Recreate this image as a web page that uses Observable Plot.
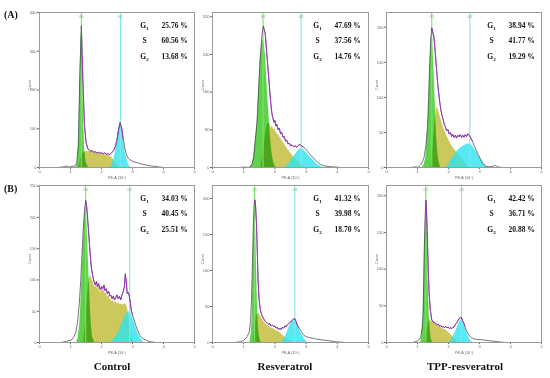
<!DOCTYPE html>
<html><head><meta charset="utf-8">
<script src="https://cdn.jsdelivr.net/npm/d3@7"></script>
<script src="https://cdn.jsdelivr.net/npm/@observablehq/plot@0.6"></script>
<style>
html,body{margin:0;padding:0;background:#fff;}
#wrap{position:relative;width:550px;height:378px;overflow:hidden;background:#fff;}
.panel{position:absolute;}
.lbl{position:absolute;font-family:"Liberation Serif",serif;font-weight:bold;color:#111;white-space:nowrap;}
</style></head>
<body><div id="wrap"></div>
<script>
// ---------- data ----------
const columnTitles = ["Control", "Resveratrol", "TPP-resveratrol"];
const rowLabels = ["(A)", "(B)"];
const phaseLabels = ["G\u2081", "S", "G\u2082"];
const xTicks = [0, 1, 2, 3, 4, 5];
const xLabel = "PE-A (10\u2075)";
const yLabel = "Count";

// Row A, Control
const A1_pct = ["25.76 %", "60.56 %", "13.68 %"];
const A1_gates = [1.35, 2.61];
const A1_yMax = 400, A1_yTicks = [0, 100, 200, 300, 400];
const A1_total = [[0.6,0],[0.8,2],[0.88,4],[0.95,1],[1.05,3],[1.15,4],[1.2,12],[1.25,55],[1.3,240],[1.35,365],[1.4,225],[1.45,110],[1.5,66],[1.55,50],[1.6,45],[1.65,42],[1.7,44],[1.75,39],[1.8,41],[1.85,37],[1.9,40],[1.95,36],[2.0,39],[2.05,35],[2.1,38],[2.15,34],[2.2,36],[2.25,33],[2.3,36],[2.35,40],[2.4,45],[2.45,55],[2.5,72],[2.55,98],[2.6,116],[2.65,102],[2.7,74],[2.75,50],[2.8,34],[2.85,26],[2.9,21],[3.0,16],[3.2,11],[3.4,7],[3.6,4],[3.8,2],[4.0,0]];
const A1_g1 = [[1.18,0],[1.23,15],[1.27,80],[1.3,200],[1.33,320],[1.35,350],[1.37,320],[1.4,200],[1.43,100],[1.46,45],[1.5,15],[1.55,3],[1.6,0]];
const A1_s = [[1.28,0],[1.33,22],[1.38,35],[1.45,40],[1.55,41],[1.6,42],[1.65,40],[1.7,42],[1.75,37],[1.8,39],[1.85,35],[1.9,38],[1.95,34],[2.0,37],[2.05,33],[2.1,35],[2.15,31],[2.2,33],[2.25,29],[2.3,28],[2.35,24],[2.4,18],[2.45,11],[2.5,5],[2.55,1],[2.6,0]];
const A1_g2 = [[2.28,0],[2.35,10],[2.4,22],[2.45,40],[2.5,66],[2.55,95],[2.6,113],[2.65,100],[2.7,72],[2.75,46],[2.8,26],[2.85,12],[2.9,4],[2.95,0]];

// Row A, Resveratrol
const A2_pct = ["47.69 %", "37.56 %", "14.76 %"];
const A2_gates = [1.62, 2.84];
const A2_yMax = 329, A2_yTicks = [0, 80, 160, 240, 320];
const A2_total = [[0.9,0],[1.05,1],[1.15,0],[1.21,2],[1.27,8],[1.32,21],[1.37,57],[1.43,99],[1.48,170],[1.53,234],[1.59,284],[1.63,300],[1.69,284],[1.74,241],[1.8,192],[1.85,150],[1.88,128],[1.91,112],[1.94,104],[1.97,96],[2.0,100],[2.03,88],[2.06,92],[2.1,80],[2.14,84],[2.18,72],[2.22,74],[2.26,64],[2.3,66],[2.34,56],[2.38,58],[2.42,50],[2.46,52],[2.5,46],[2.55,48],[2.6,44],[2.65,46],[2.7,43],[2.75,47],[2.8,49],[2.84,46],[2.9,44],[2.97,40],[3.05,34],[3.13,28],[3.21,22],[3.29,16],[3.37,11],[3.45,7],[3.53,5],[3.61,3],[3.75,2],[3.93,1],[4.1,0]];
const A2_g1 = [[1.2,0],[1.27,6],[1.32,20],[1.37,52],[1.43,92],[1.48,160],[1.53,227],[1.58,262],[1.62,273],[1.66,262],[1.7,235],[1.74,185],[1.78,140],[1.82,100],[1.85,71],[1.89,40],[1.93,21],[1.97,8],[2.01,2],[2.05,0]];
const A2_s = [[1.55,0],[1.62,30],[1.7,70],[1.76,92],[1.8,95],[1.85,90],[1.88,84],[1.92,88],[1.96,80],[2.0,82],[2.05,73],[2.1,70],[2.2,60],[2.3,50],[2.4,40],[2.5,31],[2.6,23],[2.7,16],[2.8,9],[2.9,3],[3.0,0]];
const A2_g2 = [[2.3,0],[2.4,5],[2.5,13],[2.6,22],[2.7,32],[2.78,38],[2.84,40],[2.9,38],[2.97,34],[3.05,28],[3.13,22],[3.21,16],[3.29,11],[3.37,6],[3.45,3],[3.55,0]];

// Row A, TPP-resveratrol
const A3_pct = ["38.94 %", "41.77 %", "19.29 %"];
const A3_gates = [1.46, 2.69];
const A3_yMax = 221, A3_yTicks = [0, 50, 100, 150, 200];
const A3_total = [[0.8,0],[0.94,1],[1.02,0],[1.1,4],[1.16,8],[1.21,14],[1.27,30],[1.32,57],[1.36,100],[1.39,143],[1.43,185],[1.46,199],[1.5,192],[1.53,186],[1.57,165],[1.61,143],[1.65,120],[1.7,100],[1.74,86],[1.78,76],[1.82,70],[1.86,62],[1.9,58],[1.94,52],[1.98,54],[2.02,48],[2.06,50],[2.1,44],[2.14,47],[2.18,43],[2.22,46],[2.26,42],[2.3,46],[2.34,44],[2.38,47],[2.42,43],[2.46,46],[2.5,43],[2.54,47],[2.58,44],[2.62,48],[2.66,46],[2.7,44],[2.74,40],[2.78,37],[2.82,32],[2.86,28],[2.9,24],[2.94,20],[2.98,17],[3.03,12],[3.09,7],[3.15,4],[3.2,2],[3.3,1],[3.45,2],[3.52,3],[3.58,1],[3.73,0]];
const A3_g1 = [[1.16,0],[1.22,5],[1.27,14],[1.31,40],[1.35,71],[1.38,115],[1.41,152],[1.44,182],[1.46,190],[1.49,178],[1.52,150],[1.55,119],[1.58,80],[1.61,48],[1.64,28],[1.67,14],[1.71,5],[1.75,0]];
const A3_s = [[1.43,0],[1.5,30],[1.56,65],[1.62,86],[1.66,84],[1.72,74],[1.8,62],[1.9,50],[2.02,38],[2.12,30],[2.23,24],[2.34,17],[2.45,12],[2.53,7],[2.61,2],[2.66,0]];
const A3_g2 = [[1.91,0],[2.0,4],[2.07,10],[2.18,17],[2.29,24],[2.4,28],[2.5,31],[2.6,33],[2.69,34],[2.76,31],[2.82,28],[2.9,22],[2.98,16],[3.06,10],[3.14,5],[3.2,2],[3.25,0]];

// Row B, Control
const B1_pct = ["34.03 %", "40.45 %", "25.51 %"];
const B1_gates = [1.49, 2.91];
const B1_yMax = 251, B1_yTicks = [0, 50, 100, 150, 200, 250];
const B1_total = [[0.7,0],[0.79,1],[0.87,2],[0.95,3],[1.03,4],[1.11,9],[1.17,16],[1.22,30],[1.28,60],[1.33,99],[1.37,140],[1.41,179],[1.45,210],[1.49,227],[1.52,218],[1.54,206],[1.58,180],[1.61,158],[1.64,138],[1.67,121],[1.71,108],[1.76,97],[1.8,92],[1.84,98],[1.87,89],[1.91,94],[1.94,86],[1.97,84],[2.0,90],[2.04,86],[2.08,92],[2.11,83],[2.15,86],[2.19,78],[2.23,82],[2.27,74],[2.3,76],[2.34,70],[2.38,74],[2.42,68],[2.46,72],[2.5,76],[2.54,70],[2.58,74],[2.62,68],[2.66,76],[2.7,81],[2.74,90],[2.77,110],[2.8,95],[2.83,78],[2.86,80],[2.89,76],[2.93,64],[2.96,52],[3.0,44],[3.05,36],[3.1,28],[3.16,20],[3.22,13],[3.27,9],[3.35,6],[3.43,4],[3.52,2],[3.6,1],[3.75,0]];
const B1_g1 = [[1.2,0],[1.25,8],[1.3,30],[1.33,57],[1.37,105],[1.41,153],[1.45,195],[1.48,217],[1.51,210],[1.54,180],[1.58,126],[1.62,80],[1.65,46],[1.68,24],[1.71,9],[1.75,3],[1.78,0]];
const B1_s = [[1.43,0],[1.5,40],[1.56,80],[1.6,100],[1.63,108],[1.67,104],[1.71,100],[1.76,92],[1.8,88],[1.84,94],[1.87,85],[1.91,90],[1.94,82],[1.97,80],[2.0,86],[2.04,82],[2.08,86],[2.11,78],[2.15,80],[2.19,73],[2.23,76],[2.27,69],[2.3,70],[2.34,65],[2.38,68],[2.42,63],[2.46,66],[2.5,62],[2.55,64],[2.6,60],[2.65,62],[2.7,60],[2.76,62],[2.8,60],[2.84,55],[2.87,45],[2.9,32],[2.94,20],[2.99,9],[3.03,4],[3.07,0]];
const B1_g2 = [[2.28,0],[2.38,4],[2.46,9],[2.54,16],[2.62,25],[2.7,35],[2.78,44],[2.84,48],[2.89,49],[2.93,48],[2.98,42],[3.05,33],[3.1,25],[3.16,17],[3.22,10],[3.27,6],[3.32,2],[3.37,0]];

// Row B, Resveratrol
const B2_pct = ["41.32 %", "39.98 %", "18.70 %"];
const B2_gates = [1.35, 2.64];
const B2_yMax = 218, B2_yTicks = [0, 50, 100, 150, 200];
const B2_total = [[0.7,0],[0.89,1],[1.0,3],[1.11,8],[1.18,15],[1.22,30],[1.25,60],[1.28,110],[1.31,165],[1.34,195],[1.36,198],[1.38,190],[1.41,165],[1.44,120],[1.46,87],[1.49,62],[1.53,46],[1.58,38],[1.64,33],[1.68,30],[1.72,28],[1.76,27],[1.8,25],[1.84,26],[1.88,23],[1.92,24],[1.96,22],[2.0,23],[2.04,20],[2.08,21],[2.12,18],[2.16,20],[2.2,18],[2.24,21],[2.28,20],[2.32,23],[2.36,22],[2.4,25],[2.44,26],[2.48,28],[2.52,29],[2.56,31],[2.6,33],[2.64,33],[2.68,29],[2.71,25],[2.76,21],[2.82,17],[2.88,13],[2.93,10],[3.0,8],[3.09,7],[3.2,6],[3.3,5],[3.45,4],[3.63,3],[3.8,2],[3.95,1],[4.27,0]];
const B2_g1 = [[1.2,0],[1.24,12],[1.27,31],[1.29,80],[1.31,133],[1.33,170],[1.35,191],[1.37,180],[1.39,142],[1.42,90],[1.44,50],[1.47,22],[1.5,8],[1.54,2],[1.57,0]];
const B2_s = [[1.32,0],[1.36,20],[1.4,35],[1.45,40],[1.5,40],[1.55,36],[1.6,32],[1.65,29],[1.7,26],[1.76,24],[1.82,22],[1.88,20],[1.94,19],[2.0,18],[2.06,16],[2.12,15],[2.18,13],[2.25,10],[2.34,7],[2.42,4],[2.5,2],[2.55,0]];
const B2_g2 = [[2.2,0],[2.28,4],[2.34,8],[2.4,15],[2.45,21],[2.5,25],[2.55,28],[2.6,30],[2.64,31],[2.68,28],[2.71,25],[2.76,20],[2.82,15],[2.88,10],[2.93,6],[2.98,3],[3.04,0]];

// Row B, TPP-resveratrol
const B3_pct = ["42.42 %", "36.71 %", "20.88 %"];
const B3_gates = [1.27, 2.42];
const B3_yMax = 214, B3_yTicks = [0, 50, 100, 150, 200];
const B3_total = [[0.7,0],[0.84,0],[1.0,2],[1.08,5],[1.11,8],[1.15,20],[1.18,40],[1.2,80],[1.22,130],[1.25,175],[1.27,194],[1.29,180],[1.31,153],[1.34,110],[1.37,71],[1.41,45],[1.46,31],[1.5,28],[1.55,27],[1.59,26],[1.63,24],[1.67,25],[1.71,22],[1.75,23],[1.79,21],[1.83,22],[1.87,20],[1.91,22],[1.95,20],[1.99,21],[2.03,19],[2.07,20],[2.11,19],[2.15,21],[2.19,22],[2.23,25],[2.27,27],[2.31,30],[2.35,33],[2.39,34],[2.42,34],[2.45,30],[2.49,27],[2.53,22],[2.57,17],[2.62,13],[2.66,10],[2.72,7],[2.82,5],[2.93,4],[3.04,4],[3.2,3],[3.41,2],[3.6,1],[3.84,0]];
const B3_g1 = [[1.1,0],[1.14,8],[1.18,30],[1.2,70],[1.22,117],[1.25,165],[1.27,187],[1.29,175],[1.31,149],[1.33,110],[1.35,71],[1.38,38],[1.41,17],[1.44,6],[1.48,0]];
const B3_s = [[1.25,0],[1.3,15],[1.35,27],[1.39,30],[1.44,29],[1.48,28],[1.55,26],[1.62,24],[1.7,21],[1.8,19],[1.91,17],[2.0,14],[2.07,11],[2.15,7],[2.23,4],[2.3,1],[2.34,0]];
const B3_g2 = [[2.02,0],[2.1,4],[2.15,8],[2.22,14],[2.29,21],[2.35,27],[2.4,31],[2.44,30],[2.49,26],[2.53,20],[2.58,15],[2.63,9],[2.68,5],[2.72,2],[2.77,0]];

// ---------- layout (positions of frames, px) ----------
const layout = [
  {left: 39,  top: 12,  w: 155, h: 155},
  {left: 212, top: 12,  w: 156, h: 155},
  {left: 386, top: 12,  w: 155, h: 155},
  {left: 39,  top: 185, w: 155, h: 157},
  {left: 212, top: 185, w: 156, h: 157},
  {left: 386, top: 185, w: 155, h: 157}
];
const panelData = [
  {total: A1_total, g1: A1_g1, s: A1_s, g2: A1_g2, gates: A1_gates, pct: A1_pct, yMax: A1_yMax, yTicks: A1_yTicks},
  {total: A2_total, g1: A2_g1, s: A2_s, g2: A2_g2, gates: A2_gates, pct: A2_pct, yMax: A2_yMax, yTicks: A2_yTicks},
  {total: A3_total, g1: A3_g1, s: A3_s, g2: A3_g2, gates: A3_gates, pct: A3_pct, yMax: A3_yMax, yTicks: A3_yTicks},
  {total: B1_total, g1: B1_g1, s: B1_s, g2: B1_g2, gates: B1_gates, pct: B1_pct, yMax: B1_yMax, yTicks: B1_yTicks},
  {total: B2_total, g1: B2_g1, s: B2_s, g2: B2_g2, gates: B2_gates, pct: B2_pct, yMax: B2_yMax, yTicks: B2_yTicks},
  {total: B3_total, g1: B3_g1, s: B3_s, g2: B3_g2, gates: B3_gates, pct: B3_pct, yMax: B3_yMax, yTicks: B3_yTicks}
];

const M = {l: 14, r: 4, t: 4, b: 16};
const wrap = document.getElementById("wrap");
const fx = d => d[0], fy = d => d[1];
const serif = "Liberation Serif, Times New Roman, serif";

panelData.forEach((p, i) => {
  const L = layout[i];
  const [gate1, gate2] = p.gates;
  const purple = p.total.filter(d => d[0] >= gate1 - 0.01 && d[0] <= gate2 + 0.12);
  const rowDy = [10, 25.5, 41];
  const pctMarks = [];
  phaseLabels.forEach((lab, k) => {
    pctMarks.push(Plot.text([lab], {text: d => d, frameAnchor: "top-left", dx: 105, dy: rowDy[k], textAnchor: "middle", fontSize: 7.5, fontWeight: "bold", fontFamily: serif, fill: "#111"}));
    pctMarks.push(Plot.text([p.pct[k]], {text: d => d, frameAnchor: "top-left", dx: 122, dy: rowDy[k], textAnchor: "start", fontSize: 7.5, fontWeight: "bold", fontFamily: serif, fill: "#111"}));
  });
  const chart = Plot.plot({
    width: L.w + M.l + M.r,
    height: L.h + M.t + M.b,
    marginLeft: M.l, marginRight: M.r, marginTop: M.t, marginBottom: M.b,
    style: {fontSize: "4px", fontFamily: "Liberation Sans, sans-serif", color: "#666", background: "transparent", overflow: "visible"},
    x: {domain: [0, 5], ticks: xTicks, tickSize: 2, tickPadding: 1, tickFormat: d3.format("d"), label: null},
    y: {domain: [0, p.yMax], ticks: p.yTicks, tickSize: 2, tickPadding: 1, tickFormat: d3.format("d"), label: null},
    marks: [
      Plot.areaY(p.s, {x: fx, y: fy, fill: "#cdc85c"}),
      Plot.areaY(p.g1, {x: fx, y: fy, fill: "#5ed34a", mixBlendMode: "multiply"}),
      Plot.areaY(p.g2, {x: fx, y: fy, fill: "#30e2ee", fillOpacity: 0.8}),
      Plot.ruleX([gate1], {stroke: "#80df6c", strokeWidth: 1.1}),
      Plot.ruleX([gate2], {stroke: "#80e6f0", strokeWidth: 1.1}),
      Plot.line(p.total, {x: fx, y: fy, stroke: "#3a3a48", strokeWidth: 0.7}),
      Plot.line(purple, {x: fx, y: fy, stroke: "#a02cc0", strokeWidth: 0.9}),
      Plot.text([gate1], {x: d => d, text: () => "G1", frameAnchor: "top", dy: 3, fontSize: 3.5, fill: "#6a6"}),
      Plot.text([gate2], {x: d => d, text: () => "G2", frameAnchor: "top", dy: 3, fontSize: 3.5, fill: "#6a6"}),
      Plot.frame({stroke: "#9a9a9a", strokeWidth: 1}),
      Plot.text([xLabel], {text: d => d, frameAnchor: "bottom", dy: 11, fontSize: 3.8, fill: "#666"}),
      Plot.text([yLabel], {text: d => d, frameAnchor: "left", dx: -10, rotate: -90, fontSize: 3.8, fill: "#666"}),
      ...pctMarks
    ]
  });
  // render G₁ / G₂ with a real subscript
  chart.querySelectorAll("text").forEach(t => {
    const m = /^G([\u2081\u2082])$/.exec(t.textContent);
    if (m) {
      const digit = m[1] === "\u2081" ? "1" : "2";
      t.textContent = "G";
      const ts = document.createElementNS("http://www.w3.org/2000/svg", "tspan");
      ts.setAttribute("dy", "2");
      ts.setAttribute("font-size", "5");
      ts.textContent = digit;
      t.appendChild(ts);
    }
  });
  chart.classList.add("panel");
  chart.style.left = (L.left - M.l) + "px";
  chart.style.top = (L.top - M.t) + "px";
  wrap.appendChild(chart);
});

// row labels and column titles (text)
const rowPos = [{left: 4, top: 9}, {left: 4, top: 183}];
rowLabels.forEach((t, i) => {
  const d = document.createElement("div");
  d.className = "lbl"; d.textContent = t;
  d.style.left = rowPos[i].left + "px"; d.style.top = rowPos[i].top + "px";
  d.style.fontSize = "10px";
  wrap.appendChild(d);
});
const titleX = [112, 285, 465];
columnTitles.forEach((t, i) => {
  const d = document.createElement("div");
  d.className = "lbl"; d.textContent = t;
  d.style.left = titleX[i] + "px"; d.style.top = "360px";
  d.style.transform = "translateX(-50%)";
  d.style.fontSize = "11px";
  wrap.appendChild(d);
});
</script></body></html>
